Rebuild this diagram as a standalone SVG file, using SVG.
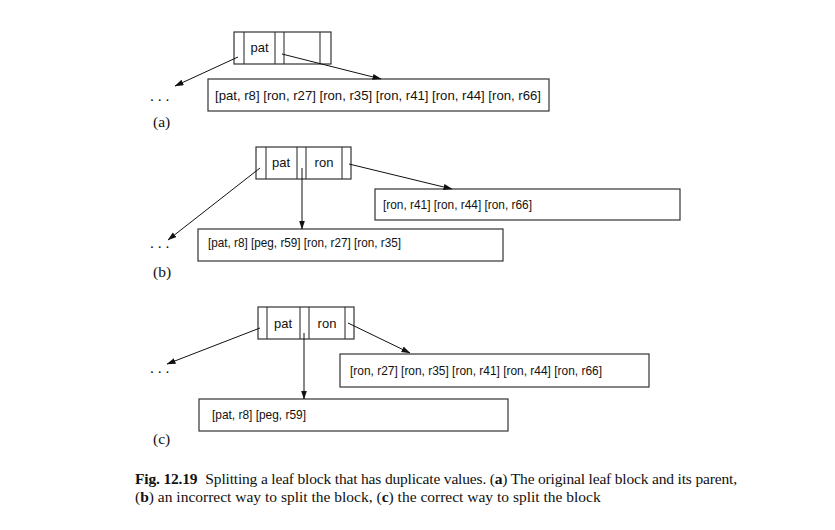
<svg xmlns="http://www.w3.org/2000/svg" width="835" height="530" viewBox="0 0 835 530">
<defs>
<marker id="ah" markerWidth="9" markerHeight="7" refX="8.5" refY="3" orient="auto" markerUnits="userSpaceOnUse">
<path d="M0,0 L9,3 L0,6 z" fill="#111"/>
</marker>
<style>
.box{fill:#fff;stroke:#333;stroke-width:1.2}
.div{stroke:#333;stroke-width:1.1}
.lbl{font-family:"Liberation Sans",Arial,sans-serif;fill:#111}
.cap{font-family:"Liberation Serif","Times New Roman",serif;fill:#111;font-size:15.5px}
.con{stroke:#111;stroke-width:1;fill:none;marker-end:url(#ah)}
</style>
</defs>
<rect width="835" height="530" fill="#fff"/>

<!-- (a) -->
<g id="a-node">
<rect class="box" x="234" y="32" width="97" height="32"/>
<line class="div" x1="244" y1="32" x2="244" y2="64"/>
<line class="div" x1="275" y1="32" x2="275" y2="64"/>
<line class="div" x1="284" y1="32" x2="284" y2="64"/>
<line class="div" x1="320" y1="32" x2="320" y2="64"/>
<text class="lbl" x="259.5" y="52" font-size="13" text-anchor="middle">pat</text>
</g>
<g id="a-leaf">
<rect class="box" x="208" y="79" width="341" height="32"/>
<text class="lbl" x="215" y="100" font-size="13.5" textLength="326" lengthAdjust="spacingAndGlyphs">[pat, r8] [ron, r27] [ron, r35] [ron, r41] [ron, r44] [ron, r66]</text>
</g>
<text class="cap" x="150" y="101" font-size="14">. . .</text>
<text class="cap" x="153" y="127">(a)</text>

<!-- (b) -->
<g id="b-node">
<rect class="box" x="256" y="147" width="95" height="32"/>
<line class="div" x1="266" y1="147" x2="266" y2="179"/>
<line class="div" x1="297" y1="147" x2="297" y2="179"/>
<line class="div" x1="306" y1="147" x2="306" y2="179"/>
<line class="div" x1="342" y1="147" x2="342" y2="179"/>
<text class="lbl" x="281" y="167" font-size="13" text-anchor="middle">pat</text>
<text class="lbl" x="324" y="167" font-size="13" text-anchor="middle">ron</text>
</g>
<g id="b-leaf-right">
<rect class="box" x="375" y="189" width="305" height="31"/>
<text class="lbl" x="383" y="209" font-size="12.6" textLength="149" lengthAdjust="spacingAndGlyphs">[ron, r41] [ron, r44] [ron, r66]</text>
</g>
<g id="b-leaf-left">
<rect class="box" x="198" y="229" width="305" height="32"/>
<text class="lbl" x="208" y="247" font-size="12.6" textLength="193" lengthAdjust="spacingAndGlyphs">[pat, r8] [peg, r59] [ron, r27] [ron, r35]</text>
</g>
<text class="cap" x="150" y="248" font-size="14">. . .</text>
<text class="cap" x="153" y="277">(b)</text>

<!-- (c) -->
<g id="c-node">
<rect class="box" x="258" y="307" width="96" height="32"/>
<line class="div" x1="267" y1="307" x2="267" y2="339"/>
<line class="div" x1="300" y1="307" x2="300" y2="339"/>
<line class="div" x1="309" y1="307" x2="309" y2="339"/>
<line class="div" x1="345" y1="307" x2="345" y2="339"/>
<text class="lbl" x="283" y="328" font-size="13" text-anchor="middle">pat</text>
<text class="lbl" x="327" y="328" font-size="13" text-anchor="middle">ron</text>
</g>
<g id="c-leaf-right">
<rect class="box" x="340" y="354" width="309" height="33"/>
<text class="lbl" x="350" y="375" font-size="12.6" textLength="252" lengthAdjust="spacingAndGlyphs">[ron, r27] [ron, r35] [ron, r41] [ron, r44] [ron, r66]</text>
</g>
<g id="c-leaf-bottom">
<rect class="box" x="199" y="399" width="309" height="32"/>
<text class="lbl" x="212" y="419" font-size="12.6" textLength="94" lengthAdjust="spacingAndGlyphs">[pat, r8] [peg, r59]</text>
</g>
<text class="cap" x="150" y="373" font-size="14">. . .</text>
<text class="cap" x="153" y="444">(c)</text>

<g id="connectors">
<line class="con" x1="238" y1="57" x2="175" y2="86"/>
<line class="con" x1="282" y1="54" x2="381" y2="79"/>
<line class="con" x1="260" y1="168" x2="168" y2="240"/>
<line class="con" x1="302" y1="168" x2="302" y2="229"/>
<line class="con" x1="349" y1="164" x2="452" y2="189"/>
<line class="con" x1="260" y1="328" x2="167" y2="364"/>
<line class="con" x1="304" y1="333" x2="304" y2="399"/>
<line class="con" x1="348" y1="323" x2="410" y2="353"/>
</g>

<g id="caption">
<text class="cap" x="135" y="484" textLength="602" lengthAdjust="spacing"><tspan font-weight="bold">Fig. 12.19</tspan><tspan dx="8">Splitting a leaf block that has duplicate values. (</tspan><tspan font-weight="bold">a</tspan><tspan>) The original leaf block and its parent,</tspan></text>
<text class="cap" x="135" y="502">(<tspan font-weight="bold">b</tspan>) an incorrect way to split the block, (<tspan font-weight="bold">c</tspan>) the correct way to split the block</text>
</g>
</svg>
